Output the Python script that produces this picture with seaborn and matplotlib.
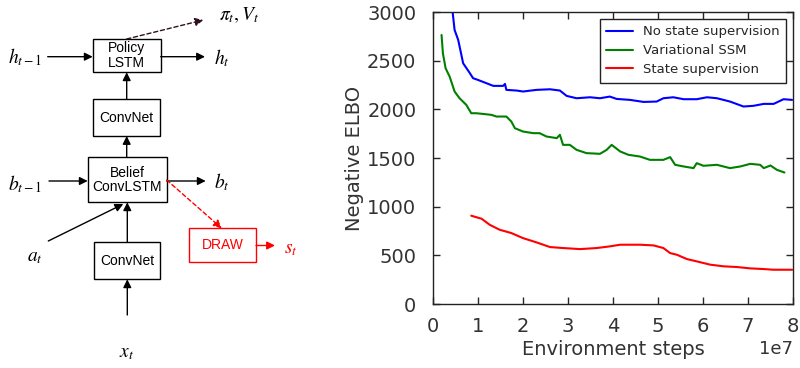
import matplotlib
import numpy as np
import pandas as pd
import seaborn as sns
matplotlib.use("Agg")
import matplotlib.pyplot as plt
from matplotlib.patches import Rectangle

# curve data, x in units of 1e7 environment steps
blue_x = [0.40, 0.48, 0.56, 0.67, 0.82, 0.89, 1.00, 1.19, 1.34, 1.56, 1.60, 1.63, 1.86, 2.00,
          2.30, 2.60, 2.82, 2.97, 3.19, 3.49, 3.71, 3.93, 4.08, 4.38, 4.68, 4.97, 5.12, 5.34,
          5.57, 5.86, 6.09, 6.31, 6.60, 6.90, 7.12, 7.35, 7.57, 7.79, 7.98]
blue_y = [3150, 2815, 2713, 2473, 2371, 2320, 2302, 2268, 2241, 2241, 2261, 2200, 2193, 2183,
          2200, 2206, 2193, 2138, 2114, 2124, 2114, 2131, 2107, 2097, 2076, 2080, 2114, 2124,
          2104, 2104, 2124, 2114, 2080, 2029, 2036, 2056, 2056, 2104, 2097]

green_x = [0.19, 0.22, 0.28, 0.37, 0.48, 0.59, 0.74, 0.85, 0.96, 1.11, 1.30, 1.41, 1.63, 1.74,
           1.82, 2.00, 2.23, 2.37, 2.52, 2.75, 2.82, 2.89, 3.04, 3.19, 3.41, 3.71, 3.86, 3.97,
           4.16, 4.34, 4.60, 4.82, 5.12, 5.27, 5.38, 5.57, 5.79, 5.86, 6.01, 6.31, 6.60, 6.83,
           7.05, 7.27, 7.35, 7.50, 7.64, 7.81]
green_y = [2764, 2576, 2422, 2336, 2183, 2114, 2046, 1960, 1960, 1953, 1943, 1926, 1926, 1875,
           1806, 1772, 1755, 1755, 1721, 1704, 1738, 1635, 1635, 1584, 1550, 1543, 1584, 1635,
           1567, 1533, 1515, 1481, 1481, 1509, 1430, 1413, 1396, 1447, 1420, 1430, 1396, 1413,
           1440, 1430, 1396, 1423, 1379, 1351]

red_x = [0.85, 1.08, 1.26, 1.48, 1.74, 2.00, 2.30, 2.60, 2.89, 3.27, 3.64, 3.93, 4.16, 4.60,
         4.90, 5.12, 5.27, 5.42, 5.64, 5.86, 6.16, 6.46, 6.75, 7.05, 7.35, 7.57, 7.98]
red_y = [907, 876, 814, 763, 729, 677, 633, 585, 575, 564, 575, 592, 609, 609,
         602, 575, 523, 506, 462, 438, 404, 387, 380, 366, 359, 352, 352]

series_names = ["No state supervision", "Variational SSM", "State supervision"]
series_colors = ["#0000ff", "#008000", "#ff0000"]
x_ticks = [0, 1, 2, 3, 4, 5, 6, 7, 8]

sns.set_theme(style="ticks")
plt.rcParams["font.family"] = ["DejaVu Sans"]
plt.rcParams["mathtext.fontset"] = "stix"

fig = plt.figure(figsize=(8, 3.68), dpi=100)

# ---- left: architecture diagram (pixel-like coordinates) ----
dax = fig.add_axes([0, 0, 330 / 800, 1])
dax.set_xlim(0, 330)
dax.set_ylim(368, 0)
dax.axis("off")


def box(x0, y0, x1, y1, text, color="black"):
    dax.add_patch(Rectangle((x0, y0), x1 - x0, y1 - y0, fill=False, edgecolor=color, lw=1.0))
    dax.text((x0 + x1) / 2, (y0 + y1) / 2, text, ha="center", va="center", fontsize=10,
             color=color, family=["Liberation Sans", "DejaVu Sans"], linespacing=1.05)


def arrow(x0, y0, x1, y1, color="black", ls="-"):
    dax.annotate("", xy=(x1, y1), xytext=(x0, y0),
                 arrowprops=dict(arrowstyle="-|>", color=color, lw=1.0, ls=ls,
                                 mutation_scale=12, shrinkA=0, shrinkB=0))


def label(x, y, s, color="black"):
    dax.text(x, y, s, ha="center", va="center", fontsize=14, color=color)


box(92.7, 39, 160.7, 72.3, "Policy\nLSTM")
box(93, 99.3, 160, 136, "ConvNet")
box(87.7, 157.3, 166.7, 202.3, "Belief\nConvLSTM")
box(94.3, 242.3, 160.3, 279.3, "ConvNet")
box(188.7, 228.3, 256, 262, "DRAW", color="#ff0000")

arrow(47.7, 56.7, 92.7, 56.7)
arrow(160.7, 56.7, 205, 56.7)
arrow(126.7, 99.3, 126.7, 72.3)
arrow(126.7, 157.3, 126.7, 136)
arrow(49, 181, 87.7, 181)
arrow(166.7, 181, 205.7, 181)
arrow(127.3, 242.3, 127.3, 202.3)
arrow(48.3, 241, 123.3, 204)
arrow(127.3, 315, 127.3, 279.3)
arrow(256, 245.5, 275, 245.5, color="#ff0000")
arrow(126.7, 39, 203.3, 20, color="#301020", ls=(0, (3, 2)))
arrow(166.7, 180, 221.7, 228.3, color="#ff0000", ls=(0, (3, 2)))

label(25, 57, r"$h_{t-1}$")
label(222, 58, r"$h_t$")
label(239, 15, r"$\pi_t, V_t$")
label(25, 184, r"$b_{t-1}$")
label(222, 182, r"$b_t$")
label(35, 257, r"$a_t$")
label(291, 248, r"$s_t$", color="#ff0000")
label(127, 352, r"$x_t$")

# ---- right: training curves ----
frames = []
for name, xs, ys in zip(series_names, [blue_x, green_x, red_x], [blue_y, green_y, red_y]):
    frames.append(pd.DataFrame({"steps": np.array(xs) * 1e7, "elbo": ys, "series": name}))
df = pd.concat(frames, ignore_index=True)

ax = fig.add_axes([433 / 800, 64 / 368, 360 / 800, 292 / 368])
sns.lineplot(data=df, x="steps", y="elbo", hue="series", hue_order=series_names,
             palette=series_colors, lw=1.5, ax=ax, sort=False, estimator=None)
ax.set_xlim(0, 8e7)
ax.set_ylim(0, 3000)
ax.set_xticks([t * 1e7 for t in x_ticks])
ax.set_yticks(range(0, 3001, 500))
ax.set_xlabel("Environment steps", fontsize=14, color="#333333", labelpad=3)
ax.set_ylabel("Negative ELBO", fontsize=14, color="#333333", labelpad=2)
ax.tick_params(direction="in", top=True, right=True, length=5, width=1, labelsize=14,
               labelcolor="#333333")
ax.tick_params(axis="x", pad=9)
ax.tick_params(axis="y", pad=12)
for sp in ax.spines.values():
    sp.set_color("#222222")
    sp.set_linewidth(1.0)
ax.xaxis.get_offset_text().set_fontsize(13)
ax.xaxis.get_offset_text().set_color("#333333")

leg = ax.legend(loc="upper right", fontsize=9.5, frameon=True, fancybox=False,
                edgecolor="#222222", handlelength=2.0, borderpad=0.5, labelspacing=0.45)
leg.get_frame().set_linewidth(1.0)
leg.get_frame().set_alpha(1)

fig.savefig("out.png", dpi=100)
